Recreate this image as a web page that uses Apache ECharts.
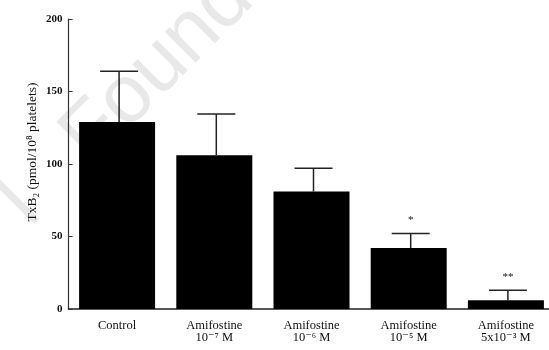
<!DOCTYPE html>
<html>
<head>
<meta charset="utf-8">
<script src="https://cdn.jsdelivr.net/npm/echarts@6/dist/echarts.min.js"></script>
<style>
  html, body { margin: 0; padding: 0; background: #fff; }
  #chart { width: 549px; height: 350px; }
</style>
</head>
<body>
<div id="chart"></div>
<script>
// TxB2 production per treatment group (mean + SD)
const categories = [
  'Control',
  'Amifostine\n10⁻⁷ M',
  'Amifostine\n10⁻⁶ M',
  'Amifostine\n10⁻⁵ M',
  'Amifostine\n5x10⁻³ M'
];
const means = [129, 106, 81, 42, 6];
const errorTops = [164, 134.5, 97, 52, 13];
const significance = ['', '', '', '*', '**'];
const yTicks = [0, 50, 100, 150, 200];

const serif = '"Liberation Serif", "DejaVu Serif", serif';

const chart = echarts.init(document.getElementById('chart'), null, { renderer: 'canvas' });

chart.setOption({
  animation: false,
  backgroundColor: '#fff',
  grid: { left: 68.5, top: 19, width: 486, height: 290, outerBoundsMode: 'none', containLabel: false },
  graphic: [
    {
      type: 'text',
      z: -10,
      x: 190, y: 36,
      rotation: Math.PI / 4,
      style: {
        text: 'l   Foundation',
        fill: '#e8e8e8',
        font: '82px "Liberation Sans", Arial, sans-serif',
        align: 'center',
        verticalAlign: 'middle'
      }
    },
    {
      type: 'text',
      x: 32, y: 152,
      rotation: Math.PI / 2,
      style: {
        text: 'TxB₂ (pmol/10⁸ platelets)',
        fill: '#111',
        font: '13.5px ' + serif,
        align: 'center',
        verticalAlign: 'middle'
      }
    }
  ],
  xAxis: {
    type: 'category',
    data: categories,
    axisLine: { lineStyle: { color: '#222', width: 1.5 } },
    axisTick: { show: false },
    axisLabel: {
      color: '#111',
      fontFamily: serif,
      fontSize: 12.5,
      lineHeight: 12,
      margin: 11,
      interval: 0
    }
  },
  yAxis: {
    type: 'value',
    min: 0, max: 200, interval: 50,
    splitLine: { show: false },
    axisLine: { show: true, lineStyle: { color: '#333', width: 1.2 } },
    axisTick: { show: true, inside: true, length: 4, lineStyle: { color: '#333' } },
    axisLabel: {
      color: '#111',
      fontFamily: serif,
      fontSize: 11,
      fontWeight: 'bold',
      margin: 6,
      formatter: v => yTicks.includes(v) ? String(v) : ''
    }
  },
  series: [
    {
      type: 'bar',
      data: means,
      barWidth: 76,
      itemStyle: { color: '#000' },
      z: 2
    },
    {
      type: 'custom',
      z: 3,
      data: means.map((m, i) => [i, m, errorTops[i]]),
      renderItem: function (params, api) {
        const i = api.value(0);
        const base = api.coord([i, api.value(1)]);
        const top = api.coord([i, api.value(2)]);
        const halfCap = 19;
        const children = [
          {
            type: 'line',
            shape: { x1: base[0] + 2, y1: base[1], x2: top[0] + 2, y2: top[1] },
            style: { stroke: '#222', lineWidth: 1.5 }
          },
          {
            type: 'line',
            shape: { x1: top[0] + 2 - halfCap, y1: top[1], x2: top[0] + 2 + halfCap, y2: top[1] },
            style: { stroke: '#222', lineWidth: 1.5 }
          }
        ];
        const mark = significance[i];
        if (mark) {
          children.push({
            type: 'text',
            x: top[0] + 2, y: top[1] - 13,
            style: {
              text: mark,
              fill: '#111',
              font: '11px ' + serif,
              align: 'center',
              verticalAlign: 'middle'
            }
          });
        }
        return { type: 'group', children: children };
      }
    }
  ]
});
</script>
</body>
</html>
